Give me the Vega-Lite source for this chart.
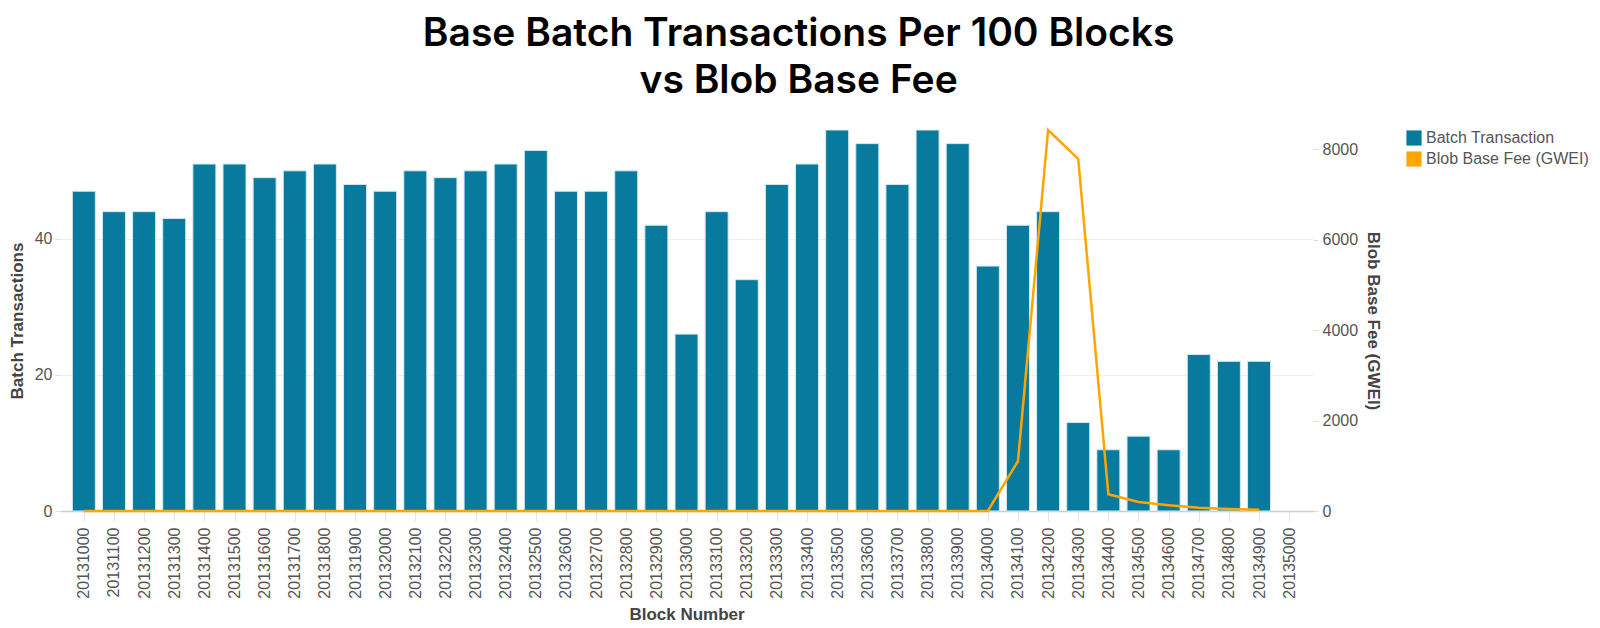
{
  "$schema": "https://vega.github.io/schema/vega-lite/v6.json",
  "width": 1253,
  "height": 381,
  "autosize": {"type": "none"},
  "padding": {"left": 60, "top": 130, "right": 287, "bottom": 117},
  "background": "white",
  "title": {
    "text": ["Base Batch Transactions Per 100 Blocks", "vs Blob Base Fee"],
    "font": "Inter",
    "fontWeight": 600,
    "fontSize": 39,
    "lineHeight": 47,
    "color": "#000000",
    "anchor": "middle",
    "frame": "bounds",
    "offset": 24
  },
  "config": {
    "view": {"stroke": null},
    "axis": {
      "labelFont": "Liberation Sans",
      "labelFontSize": 16,
      "labelColor": "#555555",
      "titleFont": "Liberation Sans",
      "titleFontSize": 17,
      "titleFontWeight": "bold",
      "titleColor": "#444444",
      "tickColor": "#dddddd",
      "gridColor": "#eeeeee",
      "domain": false
    },
    "legend": {
      "labelFont": "Liberation Sans",
      "labelFontSize": 16,
      "labelColor": "#555555",
      "labelLimit": 400
    }
  },
  "data": {
    "values": [
      {"block": 20131000, "tx": 47, "fee": 1},
      {"block": 20131100, "tx": 44, "fee": 1},
      {"block": 20131200, "tx": 44, "fee": 1},
      {"block": 20131300, "tx": 43, "fee": 1},
      {"block": 20131400, "tx": 51, "fee": 1},
      {"block": 20131500, "tx": 51, "fee": 1},
      {"block": 20131600, "tx": 49, "fee": 1},
      {"block": 20131700, "tx": 50, "fee": 1},
      {"block": 20131800, "tx": 51, "fee": 1},
      {"block": 20131900, "tx": 48, "fee": 1},
      {"block": 20132000, "tx": 47, "fee": 1},
      {"block": 20132100, "tx": 50, "fee": 1},
      {"block": 20132200, "tx": 49, "fee": 1},
      {"block": 20132300, "tx": 50, "fee": 1},
      {"block": 20132400, "tx": 51, "fee": 1},
      {"block": 20132500, "tx": 53, "fee": 1},
      {"block": 20132600, "tx": 47, "fee": 1},
      {"block": 20132700, "tx": 47, "fee": 1},
      {"block": 20132800, "tx": 50, "fee": 1},
      {"block": 20132900, "tx": 42, "fee": 1},
      {"block": 20133000, "tx": 26, "fee": 1},
      {"block": 20133100, "tx": 44, "fee": 1},
      {"block": 20133200, "tx": 34, "fee": 1},
      {"block": 20133300, "tx": 48, "fee": 1},
      {"block": 20133400, "tx": 51, "fee": 1},
      {"block": 20133500, "tx": 56, "fee": 1},
      {"block": 20133600, "tx": 54, "fee": 1},
      {"block": 20133700, "tx": 48, "fee": 1},
      {"block": 20133800, "tx": 56, "fee": 1},
      {"block": 20133900, "tx": 54, "fee": 1},
      {"block": 20134000, "tx": 36, "fee": 1},
      {"block": 20134100, "tx": 42, "fee": 1100},
      {"block": 20134200, "tx": 44, "fee": 8420},
      {"block": 20134300, "tx": 13, "fee": 7780},
      {"block": 20134400, "tx": 9, "fee": 370},
      {"block": 20134500, "tx": 11, "fee": 200},
      {"block": 20134600, "tx": 9, "fee": 125},
      {"block": 20134700, "tx": 23, "fee": 70},
      {"block": 20134800, "tx": 22, "fee": 45},
      {"block": 20134900, "tx": 22, "fee": 30}
    ]
  },
  "encoding": {
    "x": {
      "field": "block",
      "type": "quantitative",
      "title": "Block Number",
      "scale": {"domain": [20130937.5, 20135062.5], "nice": false, "zero": false},
      "axis": {
        "values": [20131000, 20131100, 20131200, 20131300, 20131400, 20131500, 20131600, 20131700, 20131800, 20131900,
                   20132000, 20132100, 20132200, 20132300, 20132400, 20132500, 20132600, 20132700, 20132800, 20132900,
                   20133000, 20133100, 20133200, 20133300, 20133400, 20133500, 20133600, 20133700, 20133800, 20133900,
                   20134000, 20134100, 20134200, 20134300, 20134400, 20134500, 20134600, 20134700, 20134800, 20134900, 20135000],
        "format": "d",
        "labelAngle": -90,
        "labelAlign": "right",
        "labelBaseline": "middle",
        "labelPadding": 6,
        "labelOverlap": false,
        "labelFlush": false,
        "tickSize": 10,
        "tickColor": "#e3e3e3",
        "grid": false,
        "domain": true,
        "domainColor": "#cccccc",
        "domainWidth": 1.5,
        "titlePadding": 8
      }
    }
  },
  "layer": [
    {
      "mark": {"type": "bar", "width": 23, "stroke": "#d3e9f0", "strokeWidth": 1},
      "encoding": {
        "y": {
          "field": "tx",
          "type": "quantitative",
          "title": "Batch Transactions",
          "scale": {"domain": [0, 56], "nice": false},
          "axis": {"values": [0, 20, 40], "grid": true, "tickSize": 5, "labelPadding": 3, "titlePadding": 8}
        },
        "color": {
          "datum": "Batch Transaction",
          "type": "nominal",
          "scale": {"domain": ["Batch Transaction", "Blob Base Fee (GWEI)"], "range": ["#087a9e", "#ffa500"]},
          "legend": {"title": null, "orient": "right", "offset": 24, "symbolType": "square", "symbolSize": 230, "rowPadding": 5, "symbolStrokeWidth": 0, "labelLimit": 400}
        }
      }
    },
    {
      "mark": {"type": "line", "strokeWidth": 2.5},
      "encoding": {
        "y": {
          "field": "fee",
          "type": "quantitative",
          "title": "Blob Base Fee (GWEI)",
          "scale": {"domain": [0, 8420], "nice": false},
          "axis": {"orient": "right", "values": [0, 2000, 4000, 6000, 8000], "format": "d", "grid": false, "tickSize": 5, "labelPadding": 4, "titleAngle": 90, "titlePadding": 6}
        },
        "color": {"datum": "Blob Base Fee (GWEI)", "type": "nominal"}
      }
    }
  ],
  "resolve": {"scale": {"y": "independent"}}
}
